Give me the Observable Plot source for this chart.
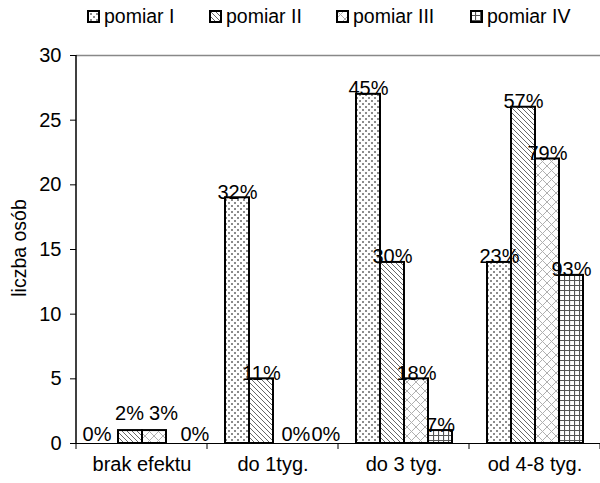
<!DOCTYPE html>
<html>
<head>
<meta charset="utf-8">
<script src="https://cdn.jsdelivr.net/npm/d3@7"></script>
<script src="https://cdn.jsdelivr.net/npm/@observablehq/plot@0.6"></script>
<style>
  html, body { margin: 0; padding: 0; background: #fff; }
  body { width: 600px; height: 483px; position: relative; overflow: hidden; font-family: "Liberation Sans", Arial, sans-serif; }
  #legend { position: relative; height: 40px; }
  .item { position: absolute; top: 5px; display: flex; align-items: center; font-size: 19.5px; color: #000; }
  .item svg { margin-right: 4px; }
  #ylabel { position: absolute; left: 19px; top: 248px; transform: translate(-50%, -50%) rotate(-90deg); font-size: 19.5px; white-space: nowrap; }
  #defs { position: absolute; width: 0; height: 0; }
</style>
</head>
<body>
<svg id="defs" width="0" height="0">
  <defs>
    <pattern id="p1" patternUnits="userSpaceOnUse" width="6" height="6">
      <rect width="6" height="6" fill="#fff"/>
      <rect x="0" y="0" width="2" height="2" fill="#8c8c8c"/>
      <rect x="3" y="3" width="2" height="2" fill="#8c8c8c"/>
    </pattern>
    <pattern id="p2" patternUnits="userSpaceOnUse" width="5" height="5">
      <rect width="5" height="5" fill="#fff"/>
      <path d="M-1,-1 L6,6 M-1,4 L1,6 M4,-1 L6,1" stroke="#666" stroke-width="1"/>
    </pattern>
    <pattern id="p3" patternUnits="userSpaceOnUse" width="9" height="9">
      <rect width="9" height="9" fill="#fff"/>
      <path d="M0,0 L9,9 M9,0 L0,9" stroke="#b0b0b0" stroke-width="1"/>
    </pattern>
    <pattern id="p4" patternUnits="userSpaceOnUse" width="5" height="5">
      <rect width="5" height="5" fill="#fff"/>
      <path d="M0,0.5 H5 M0.5,0 V5" stroke="#555" stroke-width="1.2"/>
    </pattern>
  </defs>
</svg>
<div id="legend"></div>
<div id="chart"></div>
<div id="ylabel">liczba osób</div>
<script>
const categories = ["brak efektu", "do 1tyg.", "do 3 tyg.", "od 4-8 tyg."];
const series = ["pomiar I", "pomiar II", "pomiar III", "pomiar IV"];
const valuesI   = [0, 19, 27, 14];
const valuesII  = [1, 5, 14, 26];
const valuesIII = [1, 0, 5, 22];
const valuesIV  = [0, 0, 1, 13];
const pctI   = ["0%", "32%", "45%", "23%"];
const pctII  = ["2%", "11%", "30%", "57%"];
const pctIII = ["3%", "0%", "18%", "79%"];
const pctIV  = ["0%", "0%", "7%", "93%"];
const yTicks = [0, 5, 10, 15, 20, 25, 30];
const patterns = ["url(#p1)", "url(#p2)", "url(#p3)", "url(#p4)"];

const allValues = [valuesI, valuesII, valuesIII, valuesIV];
const allPct = [pctI, pctII, pctIII, pctIV];
const data = [];
categories.forEach((c, i) => {
  series.forEach((s, j) => {
    data.push({cat: c, series: s, value: allValues[j][i], pct: allPct[j][i]});
  });
});

// label placement groups (as Excel placed them in the reference)
const isLifted = d => d.cat === categories[0] && d.value > 0;
const normalLabels = data.filter(d => d.value > 0 && !isLifted(d));
const liftedII = data.filter(d => isLifted(d) && d.series === series[1]);
const liftedIII = data.filter(d => isLifted(d) && d.series === series[2]);
const zeroI = data.filter(d => d.value === 0 && d.series === series[0]);
const zeroIII = data.filter(d => d.value === 0 && d.series === series[2]);
const zeroIV = data.filter(d => d.value === 0 && d.series === series[3]);

const font = "Liberation Sans, Arial, sans-serif";
const textOpts = {fx: "cat", x: "series", y: "value", text: "pct", lineAnchor: "bottom", fontSize: 20, fill: "#000"};
const plot = Plot.plot({
  width: 600,
  height: 443,
  marginTop: 15,
  marginLeft: 75,
  marginRight: 0,
  marginBottom: 40,
  style: {fontFamily: font, fontSize: "20px", color: "#000", background: "#fff", overflow: "visible"},
  fx: {domain: categories, padding: 0, label: null},
  x: {domain: series, paddingInner: 0, paddingOuter: 0.69, axis: null},
  y: {domain: [0, 30], label: null},
  color: {domain: series, range: patterns},
  marks: [
    Plot.ruleY([30], {stroke: "#888", strokeWidth: 1.5}),
    Plot.barY(data, {fx: "cat", x: "series", y: "value", fill: "series", stroke: "#000", strokeWidth: 2}),
    Plot.ruleY([0], {stroke: "#000", strokeWidth: 1}),
    Plot.text(normalLabels, {...textOpts, dy: 1}),
    Plot.text(liftedII, {...textOpts, dy: -11, dx: -1}),
    Plot.text(liftedIII, {...textOpts, dy: -11, dx: 9}),
    Plot.text(zeroI, {...textOpts, dy: -3, dx: 5, textAnchor: "end"}),
    Plot.text(zeroIII, {...textOpts, dy: -3, dx: -4, textAnchor: "start"}),
    Plot.text(zeroIV, {...textOpts, dy: -3, dx: 2, textAnchor: "start"}),
    Plot.axisY({ticks: yTicks, tickSize: 6, tickPadding: 9, fontSize: 20, label: null, stroke: "#000"}),
    Plot.axisFx({anchor: "bottom", tickSize: 0, tickPadding: 13, fontSize: 20, label: null})
  ]
});
document.getElementById("chart").appendChild(plot);

// axis line and category boundary ticks, positioned from Plot's scales
const fx = plot.scale("fx");
const y = plot.scale("y");
const svg = d3.select(plot);
const y0 = y.apply(0), y30 = y.apply(30);
const xLeft = fx.apply(categories[0]);
svg.append("line").attr("x1", xLeft).attr("x2", xLeft).attr("y1", y30).attr("y2", y0)
  .attr("stroke", "#000").attr("stroke-width", 1.5);
const bounds = categories.map(c => fx.apply(c)).concat([fx.apply(categories[categories.length - 1]) + fx.bandwidth]);
bounds.forEach(b => {
  svg.append("line").attr("x1", b).attr("x2", b).attr("y1", y0).attr("y2", y0 + 6)
    .attr("stroke", "#000").attr("stroke-width", 1);
});

// legend
const legendX = [87, 209, 336, 470];
const legend = document.getElementById("legend");
series.forEach((s, j) => {
  const d = document.createElement("div");
  d.className = "item";
  d.style.left = legendX[j] + "px";
  d.innerHTML = `<svg width="13" height="13"><rect x="1" y="1" width="11" height="11" fill="${patterns[j]}" stroke="#000" stroke-width="2"/></svg><span>${s}</span>`;
  legend.appendChild(d);
});
</script>
</body>
</html>
